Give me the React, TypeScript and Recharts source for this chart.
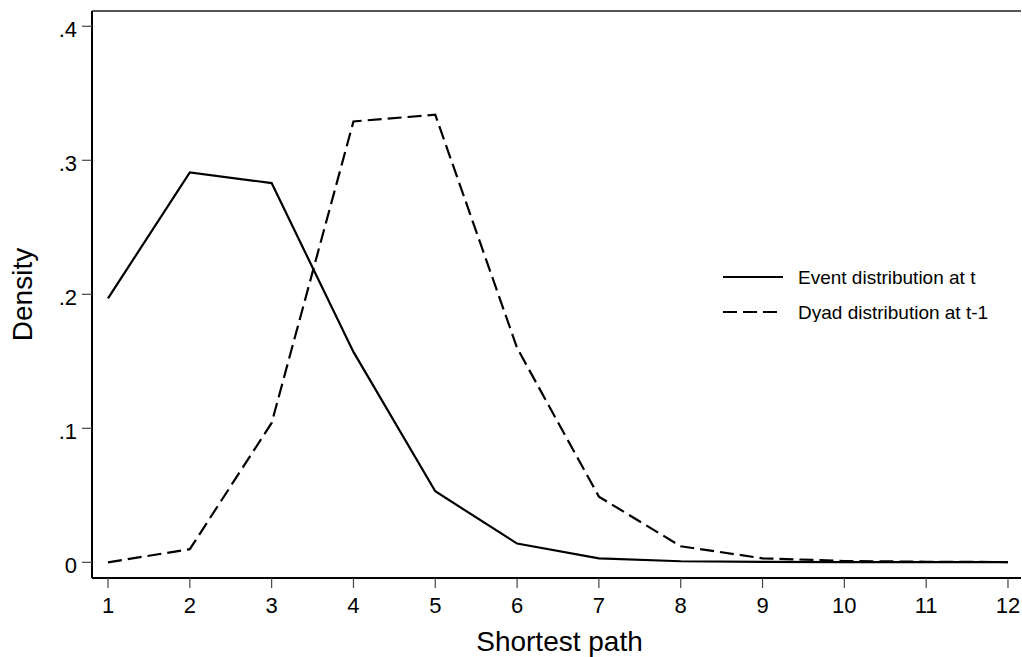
import React from 'react';
import { LineChart, Line, XAxis, YAxis, ReferenceLine, Legend, Label } from 'recharts';

const shortestPath = [1, 2, 3, 4, 5, 6, 7, 8, 9, 10, 11, 12];
const eventDist = [0.197, 0.291, 0.283, 0.157, 0.053, 0.014, 0.003, 0.0008, 0.0003, 0.0002, 0.0001, 0.0001];
const dyadDist = [0, 0.0098, 0.104, 0.329, 0.334, 0.16, 0.049, 0.012, 0.003, 0.001, 0.0004, 0.0002];
const xTicks = [1, 2, 3, 4, 5, 6, 7, 8, 9, 10, 11, 12];
const yTicks = [0, 0.1, 0.2, 0.3, 0.4];
const seriesNames = ['Event distribution at t', 'Dyad distribution at t-1'];

const data = shortestPath.map((p, i) => ({ path: p, event: eventDist[i], dyad: dyadDist[i] }));

const FONT = '"Liberation Sans", Arial, sans-serif';
const X_DOMAIN: [number, number] = [0.8044, 12.159];
const Y_DOMAIN: [number, number] = [-0.0117, 0.4114];
const DASH = '14 6';

const fmtY = (v: number) => (v === 0 ? '0' : String(v).replace(/^0\./, '.'));

const renderLegend = () => (
  <svg width={290} height={60} style={{ display: 'block' }}>
    {seriesNames.map((name, i) => {
      const cy = 15 + i * 35;
      return (
        <g key={name}>
          <line x1={0} x2={60} y1={cy} y2={cy} stroke="#000" strokeWidth={2.2}
            strokeDasharray={i === 1 ? DASH : undefined} />
          <text x={75} y={cy + 6.8} fontSize={19} fontFamily={FONT} fill="#000">{name}</text>
        </g>
      );
    })}
  </svg>
);

export default function App() {
  return (
    <div style={{ position: 'absolute', left: 0, top: 0, width: 1022, height: 657, background: '#fff' }}>
      <LineChart width={1022} height={657} data={data}
        margin={{ top: 11, right: 1, left: 0, bottom: 0 }}>
        <XAxis dataKey="path" type="number" domain={X_DOMAIN} ticks={xTicks} allowDataOverflow
          height={79} tickSize={10} tickMargin={9}
          axisLine={{ stroke: '#000', strokeWidth: 2 }}
          tickLine={{ stroke: '#444', strokeWidth: 1.2 }}
          tick={{ fill: '#000', fontSize: 22, fontFamily: FONT }}>
          <Label content={(props: any) => {
            const vb = props.viewBox || { x: 92, width: 929 };
            return (
              <text x={vb.x + vb.width / 2 + 3} y={651} textAnchor="middle"
                fontSize={28} fontFamily={FONT} fill="#000">Shortest path</text>
            );
          }} />
        </XAxis>
        <YAxis type="number" domain={Y_DOMAIN} ticks={yTicks} allowDataOverflow
          width={92} tickSize={10} tickMargin={5} tickFormatter={fmtY}
          axisLine={{ stroke: '#000', strokeWidth: 2 }}
          tickLine={{ stroke: '#444', strokeWidth: 1.2 }}
          tick={{ fill: '#000', fontSize: 22, fontFamily: FONT, dy: 3 }}>
          <Label content={(props: any) => {
            const vb = props.viewBox || { y: 11, height: 567 };
            const cy = vb.y + vb.height / 2;
            return (
              <text x={32} y={cy} transform={`rotate(-90 32 ${cy})`} textAnchor="middle"
                fontSize={28} fontFamily={FONT} fill="#000">Density</text>
            );
          }} />
        </YAxis>
        <ReferenceLine y={Y_DOMAIN[1]} stroke="#555" strokeWidth={2} ifOverflow="visible" />
        <Line dataKey="event" name={seriesNames[0]} type="linear" stroke="#000" strokeWidth={2.2}
          dot={false} activeDot={false} isAnimationActive={false} />
        <Line dataKey="dyad" name={seriesNames[1]} type="linear" stroke="#000" strokeWidth={2.2}
          strokeDasharray={DASH} dot={false} activeDot={false} isAnimationActive={false} />
        <Legend content={renderLegend} layout="horizontal" verticalAlign="middle" align="center"
          wrapperStyle={{ position: 'absolute', left: 723, top: 262, width: 290, height: 60 }} />
      </LineChart>
    </div>
  );
}
